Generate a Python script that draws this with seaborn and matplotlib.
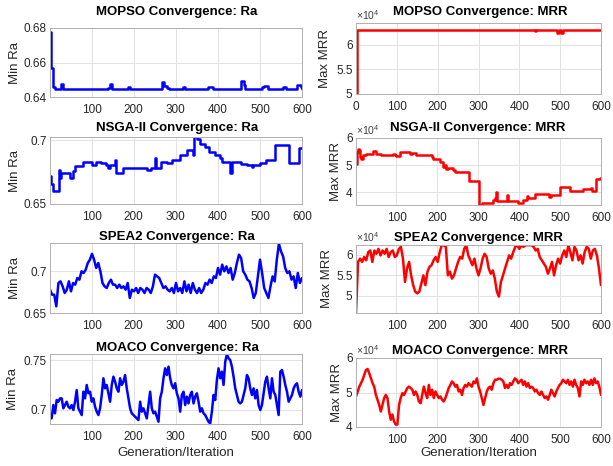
import numpy as np
import matplotlib
matplotlib.use('Agg')
import matplotlib.pyplot as plt
import seaborn as sns
from matplotlib.ticker import FuncFormatter, FixedLocator

sns.set_theme(style='white')
plt.rcParams['font.family'] = ['Liberation Sans', 'DejaVu Sans']
plt.rcParams['mathtext.fontset'] = 'custom'
plt.rcParams['mathtext.rm'] = 'Liberation Sans'
plt.rcParams['mathtext.it'] = 'Liberation Sans:italic'

# ---------------- data ----------------
# step-like series: generation where value changes, and the value
mopso_ra_gen = [1, 3, 9, 12, 28, 33, 140, 143, 149, 186, 192, 268, 272, 278, 284, 318, 322,
                376, 388, 455, 461, 464, 505, 509, 519, 555, 562, 589, 597, 600]
mopso_ra_val = [0.6775, 0.6567, 0.6460, 0.6445, 0.6475, 0.6445, 0.6452, 0.6475, 0.6445, 0.6458,
                0.6445, 0.6488, 0.6462, 0.6455, 0.6445, 0.6458, 0.6445, 0.6460, 0.6445, 0.6490,
                0.6470, 0.6445, 0.6458, 0.6465, 0.6445, 0.6458, 0.6445, 0.6468, 0.6460, 0.6445]

mopso_mrr_gen = [0, 3, 438, 441, 493, 497, 502, 506, 600]
mopso_mrr_val = [50000, 62900, 62700, 62900, 62400, 62900, 62400, 62900, 62900]

nsga_ra_gen = [1, 4, 8, 22, 24, 28, 48, 56, 60, 80, 100, 111, 123, 135, 139, 143, 155, 159,
               175, 231, 242, 250, 254, 266, 278, 291, 310, 326, 340, 344, 350, 358, 370, 380,
               394, 405, 410, 430, 433, 455, 470, 480, 484, 500, 515, 535, 570, 593, 600]
nsga_ra_val = [0.6718, 0.6654, 0.6600, 0.6769, 0.6705, 0.6744, 0.6705, 0.6756, 0.6795, 0.6833,
               0.6808, 0.6833, 0.6820, 0.6810, 0.6780, 0.6810, 0.6846, 0.6744, 0.6782, 0.6770,
               0.6782, 0.6860, 0.6782, 0.6833, 0.6820, 0.6846, 0.6885, 0.6923, 0.6885, 0.7033,
               0.7013, 0.6974, 0.6949, 0.6910, 0.6885, 0.6860, 0.6833, 0.6744, 0.6833, 0.6813,
               0.6808, 0.6790, 0.6808, 0.6820, 0.6846, 0.6962, 0.6820, 0.6936, 0.6936]

nsga_mrr_gen = [1, 3, 5, 8, 10, 14, 18, 26, 43, 50, 63, 75, 92, 96, 100, 108, 132, 137, 148,
                186, 190, 206, 214, 218, 221, 226, 238, 243, 278, 301, 308, 322, 336, 340, 343,
                345, 370, 372, 398, 410, 418, 421, 438, 447, 473, 478, 500, 524, 557, 575, 578,
                587, 597, 600]
nsga_mrr_val = [50600, 54900, 56000, 55500, 53000, 52400, 53900, 54300, 55100, 54300, 53900,
                53700, 54300, 53700, 53400, 54900, 54300, 54600, 53900, 53000, 52400, 51200,
                49400, 50000, 48500, 49000, 48200, 47600, 44100, 35400, 36000, 36300, 37200,
                37800, 40000, 36800, 39000, 36800, 36300, 37200, 38800, 38000, 39400, 39300,
                38400, 39000, 42100, 40600, 41200, 41700, 40500, 45100, 45400, 45400]

# noisy series: values sampled evenly over generations 1..600
spea2_ra = [0.678, 0.672, 0.672, 0.658, 0.686, 0.688, 0.682, 0.674, 0.678, 0.688,
            0.676, 0.686, 0.684, 0.692, 0.690, 0.700, 0.698, 0.702, 0.710, 0.714,
            0.721, 0.714, 0.704, 0.710, 0.700, 0.686, 0.682, 0.680, 0.686, 0.690,
            0.684, 0.684, 0.680, 0.684, 0.680, 0.682, 0.678, 0.686, 0.668, 0.678,
            0.676, 0.680, 0.674, 0.680, 0.678, 0.674, 0.680, 0.678, 0.674, 0.682,
            0.696, 0.694, 0.692, 0.686, 0.680, 0.682, 0.678, 0.676, 0.680, 0.674,
            0.686, 0.676, 0.680, 0.674, 0.688, 0.676, 0.684, 0.674, 0.686, 0.678,
            0.674, 0.680, 0.674, 0.678, 0.686, 0.684, 0.690, 0.686, 0.694, 0.692,
            0.704, 0.696, 0.708, 0.700, 0.706, 0.698, 0.704, 0.690, 0.698, 0.710,
            0.720, 0.716, 0.700, 0.696, 0.690, 0.688, 0.680, 0.668, 0.674, 0.694,
            0.714, 0.698, 0.680, 0.674, 0.668, 0.682, 0.694, 0.688, 0.714, 0.733,
            0.724, 0.718, 0.704, 0.698, 0.700, 0.690, 0.694, 0.680, 0.698, 0.686,
            0.692]

spea2_mrr = [45800, 58300, 59100, 58300, 59500, 58700, 60700, 61100, 58300, 61100,
             60300, 61500, 59900, 61100, 60300, 61500, 59500, 60700, 61100, 59500,
             59900, 61500, 62000, 59100, 53400, 56700, 58300, 55000, 52600, 51000,
             50600, 51000, 53000, 55000, 52600, 55900, 57100, 57500, 58700, 59500,
             58300, 60700, 62400, 62400, 62000, 55000, 55900, 54200, 55000, 56700,
             58300, 59500, 59100, 61500, 62400, 59900, 58700, 57500, 59100, 56700,
             55000, 56700, 59100, 60300, 59500, 56700, 55400, 56200, 54200, 51000,
             49800, 53400, 55000, 56700, 58300, 59900, 59100, 60700, 62000, 62400,
             61500, 62400, 62000, 62400, 62400, 62400, 62400, 62000, 61100, 61500,
             59500, 58700, 57900, 57100, 55400, 56700, 58300, 55000, 57500, 59100,
             57900, 59900, 61100, 59500, 62400, 60700, 58700, 62000, 61100, 58700,
             59900, 57900, 60700, 62000, 61500, 59100, 61100, 61500, 59900, 56700,
             52600]

moaco_ra = [0.6946, 0.6912, 0.7047, 0.6963, 0.7098, 0.7081, 0.7115, 0.7115, 0.7014, 0.7047,
            0.7081, 0.7030, 0.7014, 0.7047, 0.6997, 0.7081, 0.7199, 0.7014, 0.6980, 0.6946,
            0.7182, 0.7115, 0.7250, 0.7166, 0.7182, 0.7081, 0.7115, 0.7030, 0.6980, 0.6946,
            0.7014, 0.7149, 0.7318, 0.7216, 0.7250, 0.7166, 0.7081, 0.7250, 0.7334, 0.7284,
            0.7216, 0.7182, 0.7318, 0.7250, 0.7284, 0.7351, 0.7216, 0.7115, 0.7014, 0.6963,
            0.6946, 0.6929, 0.6912, 0.6895, 0.7081, 0.6980, 0.7014, 0.6963, 0.6912, 0.7047,
            0.7182, 0.7014, 0.6963, 0.6980, 0.6929, 0.6878, 0.7115, 0.7182, 0.7318, 0.7419,
            0.7351, 0.7436, 0.7318, 0.7250, 0.7216, 0.7267, 0.7166, 0.7115, 0.6980, 0.7149,
            0.7182, 0.7047, 0.7132, 0.7064, 0.7149, 0.7182, 0.7064, 0.7132, 0.7166, 0.7081,
            0.6980, 0.7014, 0.6963, 0.6946, 0.6912, 0.6878, 0.6861, 0.6980, 0.7149, 0.7098,
            0.7301, 0.7419, 0.7318, 0.7385, 0.7250, 0.7486, 0.7561, 0.7520, 0.7503, 0.7436,
            0.7334, 0.7216, 0.7149, 0.7081, 0.7064, 0.7081, 0.7149, 0.7216, 0.7351, 0.7318,
            0.7216, 0.7149, 0.7216, 0.7115, 0.7199, 0.7047, 0.6997, 0.7047, 0.7166, 0.7284,
            0.7334, 0.7216, 0.7115, 0.7318, 0.7182, 0.7149, 0.7047, 0.6946, 0.7385, 0.7402,
            0.7334, 0.7250, 0.7182, 0.7081, 0.7115, 0.7149, 0.7216, 0.7250, 0.7267, 0.7182,
            0.7132, 0.7199]

moaco_mrr = [48850, 50300, 51700, 52700, 53700, 55100, 56500, 56800, 55600, 54100,
             52700, 51700, 49300, 47900, 46400, 44500, 46400, 48400, 49300, 48400,
             44500, 42100, 43600, 41600, 40700, 40700, 46400, 48400, 49800, 49300,
             50300, 51300, 51700, 51300, 50800, 49300, 50300, 49300, 47400, 46900,
             49300, 51700, 49800, 48400, 52200, 49300, 50800, 48400, 50300, 49300,
             48400, 48850, 47900, 47400, 48400, 49800, 51300, 52200, 53200, 52700,
             51700, 52200, 50300, 50800, 49300, 51300, 52200, 51700, 52700, 52200,
             51700, 53200, 52700, 54100, 51700, 50300, 48400, 46400, 48400, 50300,
             51300, 51700, 50800, 52700, 53700, 53700, 54000, 54000, 53700, 53200,
             51300, 52200, 51300, 52700, 52200, 53200, 54100, 53700, 52700, 53200,
             53700, 52200, 53200, 51700, 52700, 51300, 51700, 51300, 50300, 50800,
             49800, 49300, 50300, 49300, 48400, 48850, 47900, 49300, 50800, 49800,
             48850, 50300, 51300, 52200, 52700, 53700, 53200, 52700, 53700, 52200,
             53200, 51700, 53700, 52200, 51300, 48850, 53200, 52200, 53700, 52700,
             53200, 52200, 53700, 52200, 54100, 52700, 53200, 51700, 49300]

titles = ['MOPSO Convergence: Ra', 'MOPSO Convergence: MRR',
          'NSGA-II Convergence: Ra', 'NSGA-II Convergence: MRR',
          'SPEA2 Convergence: Ra', 'SPEA2 Convergence: MRR',
          'MOACO Convergence: Ra', 'MOACO Convergence: MRR']
ylabels = ['Min Ra', 'Max MRR'] * 4
xlabel = 'Generation/Iteration'
xtick_vals = [0, 100, 200, 300, 400, 500, 600]

# ---------------- figure ----------------
W, H = 613, 466
fig = plt.figure(figsize=(W / 100, H / 100), dpi=100)


def add_ax(l, t, r, b):
    return fig.add_axes([l / W, 1 - b / H, (r - l) / W, (b - t) / H])


def even_gens(vals):
    return np.linspace(1, 600, len(vals))


panels = [
    dict(box=(50, 28, 302, 97), x=mopso_ra_gen, y=mopso_ra_val, c='#0000ff', steps=True,
         xlim=(1, 600), ylim=(0.64, 0.68), yt=[0.64, 0.66, 0.68], sci=False,
         tpos=(177, 15), lx=15),
    dict(box=(356, 23, 601, 94), x=mopso_mrr_gen, y=mopso_mrr_val, c='#ff0000', steps=True,
         xlim=(0, 600), ylim=(50000, 64400), yt=[50000, 55000, 60000], sci=True,
         tpos=(480, 15), lx=325),
    dict(box=(50, 137, 302, 204), x=nsga_ra_gen, y=nsga_ra_val, c='#0000ff', steps=True,
         xlim=(1, 600), ylim=(0.65, 0.7026), yt=[0.65, 0.7], sci=False,
         tpos=(177, 131.5), lx=15),
    dict(box=(356, 138, 601, 205), x=nsga_mrr_gen, y=nsga_mrr_val, c='#ff0000', steps=True,
         xlim=(1, 600), ylim=(35400, 60000), yt=[40000, 50000, 60000], sci=True,
         tpos=(478, 131.5), lx=336),
    dict(box=(50, 243, 302, 313), x=even_gens(spea2_ra), y=spea2_ra, c='#0000ff', steps=False,
         xlim=(1, 600), ylim=(0.65, 0.734), yt=[0.65, 0.7], sci=False,
         tpos=(177, 240), lx=15),
    dict(box=(356, 245, 601, 313), x=even_gens(spea2_mrr), y=spea2_mrr, c='#ff0000', steps=False,
         xlim=(1, 600), ylim=(45770, 62450), yt=[50000, 55000, 60000], sci=True,
         tpos=(478, 240.5), lx=327),
    dict(box=(50, 354, 302, 424), x=even_gens(moaco_ra), y=moaco_ra, c='#0000ff', steps=False,
         xlim=(1, 600), ylim=(0.6855, 0.7564), yt=[0.7, 0.75], sci=False,
         tpos=(177, 351), lx=13),
    dict(box=(356, 358, 601, 427), x=even_gens(moaco_mrr), y=moaco_mrr, c='#ff0000', steps=False,
         xlim=(1, 600), ylim=(40000, 60000), yt=[40000, 50000, 60000], sci=True,
         tpos=(480, 354), lx=337),
]

txt_color = '#262626'
for i, p in enumerate(panels):
    ax = add_ax(*p['box'])
    kw = dict(drawstyle='steps-post') if p['steps'] else {}
    sns.lineplot(x=np.asarray(p['x'], dtype=float), y=np.asarray(p['y'], dtype=float), ax=ax,
                 color=p['c'], linewidth=1.8, legend=False, **kw)
    ax.set_xlim(*p['xlim'])
    ax.set_ylim(*p['ylim'])
    ax.xaxis.set_major_locator(FixedLocator(xtick_vals))
    ax.yaxis.set_major_locator(FixedLocator(p['yt']))
    if p['sci']:
        ax.yaxis.set_major_formatter(FuncFormatter(lambda v, pos: f'{v / 1e4:g}'))
        ax.text(0.0, 1.015, r'$\times10^{4}$', transform=ax.transAxes, ha='left',
                va='bottom', fontsize=7.5, color='#404040')
    else:
        ax.yaxis.set_major_formatter(FuncFormatter(lambda v, pos: f'{v:g}'))
    ax.set_xlabel('')
    ax.set_ylabel('')
    ax.grid(True, color='#e2e2e2', linewidth=0.7)
    ax.set_axisbelow(True)
    for s in ax.spines.values():
        s.set_color('#b0b0b0')
        s.set_linewidth(0.7)
    ax.tick_params(axis='both', direction='in', length=2.5, width=0.5, colors='#909090',
                   labelcolor=txt_color, labelsize=8.5)
    ax.tick_params(axis='x', pad=5)
    ax.tick_params(axis='y', pad=2.5)
    ax.set_facecolor('white')

    # title
    fig.text(p['tpos'][0] / W, 1 - p['tpos'][1] / H, titles[i], ha='center', va='baseline',
             fontsize=9.5, fontweight='bold', color='black')
    # y label
    l, t, r, b = p['box']
    fig.text(p['lx'] / W, 1 - ((t + b) / 2) / H, ylabels[i], rotation=90, ha='center',
             va='center', fontsize=9.5, color=txt_color)
    if i >= 6:
        fig.text(((l + r) / 2) / W, 1 - 456 / H, xlabel, ha='center', va='baseline',
                 fontsize=9.5, color=txt_color)

fig.savefig('out.png', dpi=100, facecolor='white')
